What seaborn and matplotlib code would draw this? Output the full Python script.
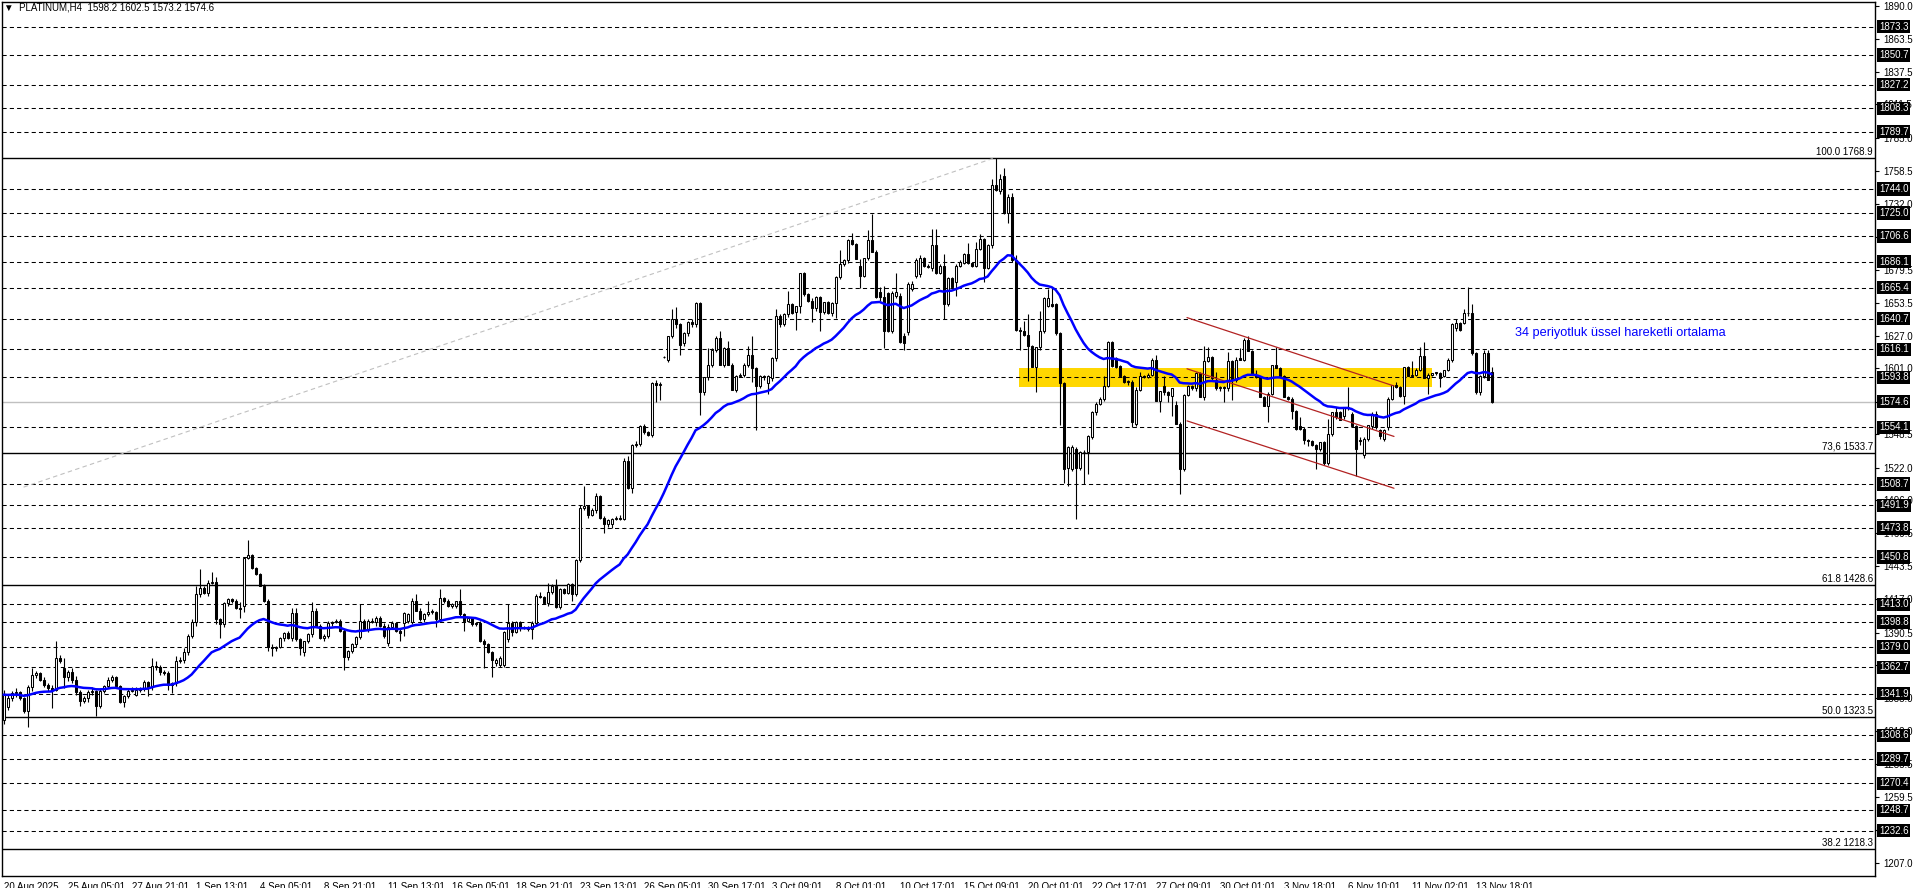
import numpy as np
import pandas as pd
import matplotlib
matplotlib.use("Agg")
import matplotlib.pyplot as plt
import matplotlib.transforms as mtrans
from matplotlib.patches import Rectangle
import seaborn as sns

sns.set_style("white")
plt.rcParams['font.family'] = ['Liberation Sans', 'DejaVu Sans']

# ---------------- data (PLATINUM, H4) ----------------
opens = [
1321,1331,1338,1342,1343,1338,1328,1347,1357,1358,
1353,1349,1346,1345,1370,1362,1355,1359,1353,1343,
1336,1338,1343,1344,1332,1344,1348,1353,1355,1348,
1335,1340,1344,1341,1345,1346,1351,1347,1364,1363,
1359,1358,1349,1350,1368,1369,1375,1388,1399,1421,
1426,1422,1430,1431,1401,1397,1414,1417,1416,1410,
1412,1450,1452,1442,1437,1428,1416,1379,1378,1379,
1386,1390,1386,1406,1385,1375,1384,1389,1408,1396,
1386,1388,1398,1399,1400,1392,1371,1376,1381,1387,
1400,1393,1400,1399,1402,1396,1382,1395,1398,1392,
1398,1400,1399,1416,1408,1401,1405,1407,1407,1401,
1418,1416,1412,1412,1416,1405,1400,1402,1397,1398,
1384,1381,1375,1366,1365,1365,1385,1398,1391,1399,
1394,1395,1393,1398,1420,1419,1414,1423,1428,1411,
1425,1422,1429,1421,1448,1490,1491,1484,1488,1499,
1482,1477,1477,1481,1482,1481,1527,1506,1540,1541,
1555,1550,1548,1589,1588,1610,1608,1627,1640,1636,
1621,1629,1638,1636,1653,1582,1594,1604,1616,1625,
1604,1617,1604,1584,1595,1596,1604,1612,1601,1587,
1595,1589,1593,1609,1643,1636,1644,1652,1646,1651,
1677,1660,1655,1649,1658,1646,1654,1645,1653,1674,
1684,1687,1703,1700,1683,1675,1689,1703,1694,1662,
1658,1661,1631,1659,1659,1627,1630,1664,1675,1676,
1689,1683,1681,1699,1677,1683,1652,1673,1670,1683,
1685,1692,1685,1683,1696,1704,1681,1699,1747,1742,
1754,1725,1738,1687,1632,1631,1628,1619,1602,1618,
1631,1651,1652,1652,1629,1589,1522,1521,1537,1522,
1534,1534,1546,1566,1573,1577,1587,1622,1609,1603,
1595,1590,1590,1557,1584,1595,1594,1596,1608,1575,
1587,1582,1579,1572,1557,1521,1580,1587,1585,1597,
1578,1607,1610,1592,1585,1586,1585,1607,1592,1609,
1608,1624,1615,1596,1594,1578,1571,1581,1604,1601,
1595,1578,1577,1567,1555,1553,1544,1543,1540,1537,
1542,1526,1549,1566,1566,1563,1570,1565,1555,1543,
1532,1545,1555,1565,1552,1545,1554,1577,1588,1586,
1579,1602,1595,1596,1600,1611,1593,1596,1597,1597,
1595,1600,1608,1633,1637,1637,1645,1645,1613,1582,
1595,1613,1598.2]

highs = [
1345,1341,1344,1346,1344,1339,1349,1362,1360,1359,
1355,1350,1349,1384,1373,1370,1361,1362,1356,1345,
1340,1345,1347,1345,1346,1349,1355,1357,1356,1349,
1341,1346,1347,1347,1347,1353,1352,1370,1368,1365,
1361,1360,1351,1372,1371,1378,1389,1401,1428,1441,
1428,1432,1439,1435,1402,1415,1418,1418,1417,1415,
1451,1464,1453,1443,1438,1429,1417,1381,1380,1387,
1391,1392,1410,1410,1386,1384,1390,1415,1410,1397,
1389,1400,1400,1401,1401,1393,1377,1382,1388,1413,
1401,1401,1402,1404,1404,1398,1397,1400,1399,1394,
1407,1406,1418,1421,1410,1406,1416,1409,1408,1425,
1419,1417,1414,1416,1425,1406,1403,1403,1399,1400,
1385,1382,1376,1370,1372,1392,1413,1400,1400,1400,
1396,1396,1400,1421,1423,1420,1430,1429,1433,1426,
1426,1430,1430,1449,1492,1507,1492,1490,1502,1500,
1483,1481,1482,1483,1484,1530,1531,1541,1543,1556,
1557,1551,1590,1592,1590,1611,1627,1648,1650,1637,
1630,1639,1640,1654,1654,1594,1617,1617,1627,1631,
1618,1623,1605,1596,1597,1605,1619,1627,1602,1596,
1596,1596,1610,1648,1644,1645,1663,1653,1651,1677,
1678,1661,1657,1659,1659,1654,1655,1654,1675,1695,
1688,1704,1709,1701,1688,1689,1711,1724,1695,1666,
1667,1662,1663,1677,1661,1629,1670,1671,1689,1691,
1690,1684,1712,1712,1684,1692,1674,1674,1684,1687,
1693,1701,1686,1702,1708,1705,1700,1752,1769,1756,
1761,1740,1741,1691,1634,1639,1644,1620,1618,1647,
1658,1664,1665,1653,1630,1590,1539,1540,1538,1535,
1536,1548,1567,1574,1578,1595,1623,1623,1610,1604,
1596,1592,1592,1586,1598,1596,1597,1609,1612,1583,
1595,1583,1585,1575,1558,1581,1588,1588,1598,1598,
1619,1618,1611,1598,1587,1587,1614,1608,1610,1617,
1625,1627,1616,1600,1595,1579,1582,1604,1618,1602,
1596,1579,1578,1568,1562,1554,1545,1544,1541,1542,
1543,1561,1566,1570,1567,1570,1586,1566,1556,1546,
1546,1556,1566,1567,1553,1553,1578,1588,1590,1587,
1602,1603,1607,1601,1618,1622,1597,1597,1598,1598,
1600,1609,1637,1640,1638,1648,1666,1652,1614,1596,
1616,1616,1602.5]

lows = [
1318,1329,1336,1339,1337,1326,1315,1344,1354,1352,
1347,1344,1330,1344,1366,1346,1352,1350,1341,1332,
1334,1335,1341,1324,1330,1342,1346,1351,1346,1334,
1331,1338,1343,1340,1343,1344,1340,1345,1361,1357,
1357,1345,1342,1348,1366,1366,1373,1386,1396,1419,
1421,1420,1429,1397,1386,1395,1412,1414,1409,1402,
1407,1449,1441,1436,1428,1415,1376,1372,1376,1378,
1384,1385,1384,1384,1373,1372,1382,1387,1395,1385,
1384,1386,1396,1398,1391,1361,1369,1374,1379,1385,
1393,1391,1398,1396,1395,1386,1380,1393,1391,1384,
1388,1398,1397,1408,1400,1399,1404,1405,1395,1399,
1414,1411,1410,1410,1404,1392,1399,1396,1396,1383,
1362,1374,1355,1364,1363,1363,1383,1388,1390,1392,
1393,1392,1385,1396,1418,1413,1412,1421,1410,1409,
1421,1421,1416,1420,1447,1488,1482,1483,1486,1481,
1470,1475,1474,1480,1480,1480,1505,1502,1538,1539,
1549,1547,1546,1574,1576,1609,1606,1625,1633,1612,
1619,1627,1634,1634,1564,1580,1592,1602,1614,1604,
1602,1604,1584,1582,1594,1594,1602,1590,1552,1585,
1592,1581,1591,1607,1634,1635,1642,1644,1632,1645,
1659,1654,1638,1647,1631,1644,1644,1643,1641,1672,
1683,1685,1699,1688,1665,1674,1687,1694,1657,1655,
1617,1630,1629,1657,1621,1616,1628,1663,1673,1674,
1682,1681,1679,1676,1676,1640,1651,1665,1659,1682,
1684,1684,1682,1682,1695,1670,1680,1697,1742,1740,
1724,1717,1686,1631,1616,1627,1591,1602,1582,1616,
1629,1650,1650,1628,1556,1510,1507,1519,1481,1520,
1509,1517,1545,1564,1572,1575,1586,1602,1601,1594,
1589,1588,1554,1555,1583,1593,1593,1595,1575,1566,
1580,1574,1563,1557,1501,1519,1579,1584,1583,1578,
1576,1606,1592,1584,1583,1574,1583,1576,1590,1608,
1607,1615,1596,1593,1578,1571,1558,1580,1601,1595,
1578,1576,1561,1552,1552,1541,1539,1539,1521,1535,
1524,1524,1547,1561,1560,1561,1568,1554,1515,1540,
1530,1543,1553,1553,1545,1543,1552,1576,1585,1578,
1573,1595,1594,1595,1599,1593,1581,1595,1596,1586,
1594,1599,1606,1631,1631,1636,1643,1612,1581,1580,
1593,1592,1573.2]

closes = [
1341,1338,1342,1343,1338,1328,1347,1357,1358,1353,
1349,1346,1345,1370,1368,1355,1359,1353,1343,1336,
1338,1343,1344,1332,1344,1348,1353,1355,1348,1335,
1340,1344,1345,1345,1346,1351,1347,1364,1363,1359,
1358,1349,1350,1368,1369,1375,1388,1399,1421,1426,
1422,1430,1431,1401,1397,1414,1417,1416,1410,1409,
1450,1452,1442,1437,1428,1416,1379,1378,1379,1386,
1390,1386,1406,1385,1378,1384,1389,1408,1396,1386,
1388,1398,1399,1400,1392,1371,1376,1381,1387,1400,
1393,1400,1399,1402,1396,1388,1395,1398,1392,1390,
1406,1405,1416,1408,1401,1405,1407,1407,1401,1418,
1416,1412,1413,1416,1405,1400,1402,1397,1398,1384,
1381,1375,1369,1369,1370,1391,1398,1391,1399,1394,
1395,1393,1398,1420,1419,1414,1423,1428,1411,1425,
1422,1429,1421,1448,1490,1491,1484,1488,1499,1482,
1477,1480,1481,1482,1481,1527,1506,1540,1541,1555,
1550,1548,1589,1588,1588,1610,1627,1640,1636,1620,
1629,1638,1636,1653,1582,1594,1604,1616,1625,1604,
1617,1604,1584,1595,1596,1604,1612,1601,1587,1595,
1594,1595,1609,1643,1636,1644,1652,1645,1651,1677,
1660,1655,1649,1658,1646,1654,1645,1653,1674,1684,
1687,1703,1700,1688,1675,1689,1703,1694,1658,1658,
1631,1631,1661,1662,1622,1621,1668,1668,1687,1689,
1683,1682,1699,1677,1683,1652,1673,1666,1683,1686,
1692,1685,1683,1696,1704,1681,1699,1747,1743,1752,
1725,1738,1687,1632,1631,1628,1619,1602,1618,1631,
1657,1657,1651,1629,1589,1521,1538,1538,1522,1534,
1534,1547,1566,1573,1577,1587,1622,1603,1602,1595,
1590,1591,1558,1584,1595,1594,1596,1608,1575,1583,
1582,1580,1585,1557,1521,1580,1587,1585,1597,1578,
1607,1610,1593,1585,1586,1585,1607,1592,1608,1608,
1624,1615,1596,1594,1578,1571,1581,1604,1601,1595,
1578,1577,1567,1553,1553,1544,1543,1540,1537,1542,
1526,1549,1566,1562,1560,1570,1570,1555,1537,1544,
1545,1556,1565,1554,1547,1552,1577,1588,1586,1579,
1602,1595,1596,1600,1611,1593,1596,1597,1598,1593,
1600,1608,1636,1637,1632,1645,1645,1613,1582,1595,
1613,1592,1574.6]

time_labels = ["20 Aug 2025", "25 Aug 05:01", "27 Aug 21:01", "1 Sep 13:01", "4 Sep 05:01",
               "8 Sep 21:01", "11 Sep 13:01", "16 Sep 05:01", "18 Sep 21:01", "23 Sep 13:01",
               "26 Sep 05:01", "30 Sep 17:01", "3 Oct 09:01", "8 Oct 01:01", "10 Oct 17:01",
               "15 Oct 09:01", "20 Oct 01:01", "22 Oct 17:01", "27 Oct 09:01", "30 Oct 01:01",
               "3 Nov 18:01", "6 Nov 10:01", "11 Nov 02:01", "13 Nov 18:01"]
label_step = 16

axis_ticks = [1890.0, 1863.5, 1837.5, 1811.5, 1785.0, 1758.5, 1732.0, 1706.0, 1679.5, 1653.5,
              1627.0, 1601.0, 1574.5, 1548.5, 1522.0, 1496.0, 1469.5, 1443.5, 1417.0, 1390.5,
              1364.5, 1338.0, 1312.0, 1285.5, 1259.5, 1233.0, 1207.0]
hidden_ticks = [1706.0, 1574.5, 1364.5, 1233.0]
levels = [1873.3, 1850.7, 1827.2, 1808.3, 1789.7, 1744.0, 1725.0, 1706.6, 1686.1, 1665.4,
          1640.7, 1616.1, 1593.8, 1554.1, 1508.7, 1491.9, 1473.8, 1450.8, 1413.0, 1398.8,
          1379.0, 1362.7, 1341.9, 1308.6, 1289.7, 1270.4, 1248.7, 1232.6]
current_price = 1574.6
fib_values = [1768.9, 1533.7, 1428.6, 1323.5, 1218.3]
fib_names = ["100.0", "73,6", "61.8", "50.0", "38.2"]

zone_bars = [253.85, 357.0]
zone_prices = [1586.4, 1601.3]
channel_bars = [295.85, 347.6]
channel_upper = [1641.5, 1587.0]
channel_middle = [1600.7, 1546.8]
channel_lower = [1559.2, 1505.5]
fib_line_bars = [5.0, 247.85]
fib_line_prices = [1506.4, 1768.9]

ema_period = 34
note_text = "34 periyotluk üssel hareketli ortalama"
header = "\u25BC  PLATINUM,H4  1598.2 1602.5 1573.2 1574.6"

# ---------------- figure ----------------
W, H = 1916, 888
fig = plt.figure(figsize=(W / 100, H / 100), dpi=100)
fig.patch.set_facecolor("white")
ax = fig.add_axes([2 / W, 12 / H, (1875 - 2) / W, (876 - 2) / H])
ax.set_facecolor("white")

n = len(closes)
df = pd.DataFrame({"bar": np.arange(n), "open": opens, "high": highs,
                   "low": lows, "close": closes})
df["high"] = df[["high", "open", "close"]].max(axis=1)
df["low"] = df[["low", "open", "close"]].min(axis=1)
df["ema"] = df["close"].ewm(span=ema_period, adjust=False).mean()

ax.set_xlim(-0.4, 467.85)
ax.set_ylim(1196.5, 1893.0)

# zone
ax.add_patch(Rectangle((zone_bars[0], zone_prices[0]), zone_bars[1] - zone_bars[0],
                       zone_prices[1] - zone_prices[0], facecolor="#FFD700",
                       edgecolor="none", zorder=1))

# horizontal levels
for lv in levels:
    ax.axhline(lv, color="black", lw=0.75, ls=(0, (4, 3)), zorder=2)
for fv in fib_values:
    ax.axhline(fv, color="black", lw=1.0, zorder=2)
ax.axhline(current_price, color="#C0C0C0", lw=1.0, zorder=2)

# fib trend line
ax.plot(fib_line_bars, fib_line_prices, color="#C0C0C0", lw=0.8, ls=(0, (4, 3)), zorder=2)

# candles
bull = df["close"] >= df["open"]
body_lo = df[["open", "close"]].min(axis=1)
body_h = (df["close"] - df["open"]).abs().clip(lower=0.35)
ax.vlines(df["bar"], df["low"], df["high"], color="black", lw=0.8, zorder=4)
ax.bar(df["bar"][bull], body_h[bull], bottom=body_lo[bull], width=0.5,
       color="white", edgecolor="black", linewidth=0.75, zorder=5)
ax.bar(df["bar"][~bull], body_h[~bull], bottom=body_lo[~bull], width=0.5,
       color="black", edgecolor="black", linewidth=0.75, zorder=5)

# EMA
sns.lineplot(data=df, x="bar", y="ema", ax=ax, color="#0000FF", lw=1.8,
             zorder=7, legend=False)

# channel
for ch in (channel_upper, channel_middle, channel_lower):
    ax.plot(channel_bars, ch, color="#B22222", lw=0.9, zorder=6)

ax.text(377.85, 1629.2, note_text, color="#0000FF", fontsize=9.2,
        ha="left", va="center", zorder=8)

# axes styling
ax.set_xlabel("")
ax.set_ylabel("")
for s in ax.spines.values():
    s.set_color("black")
    s.set_linewidth(1.0)

ax.set_xticks([i * label_step for i in range(len(time_labels))])
ax.set_xticklabels(time_labels, ha="left", fontsize=7)
ax.tick_params(axis="x", direction="out", length=3, width=0.8, pad=1, colors="black")

ax.yaxis.tick_right()
ax.set_yticks(axis_ticks)
ax.set_yticklabels(["" if t in hidden_ticks else f"{t:.1f}" for t in axis_ticks], fontsize=7)
ax.tick_params(axis="y", direction="out", length=3, width=0.8, pad=3, colors="black")
ax.grid(False)

blend = mtrans.blended_transform_factory(ax.transAxes, ax.transData)
for lv in levels + [current_price]:
    ax.annotate(f"{lv:.1f}", xy=(1.0, lv), xycoords=blend, xytext=(4, 0),
                textcoords="offset pixels", ha="left", va="center", fontsize=7,
                color="white", annotation_clip=False, zorder=10,
                bbox=dict(boxstyle="square,pad=0.18", fc="black", ec="none"))
for name, fv in zip(fib_names, fib_values):
    ax.annotate(f"{name} {fv:.1f}", xy=(1.0, fv), xycoords=blend, xytext=(-2, 1),
                textcoords="offset pixels", ha="right", va="bottom", fontsize=7,
                color="black", annotation_clip=False, zorder=10)

fig.text(4 / W, 1 - 7 / H, header, fontsize=7, ha="left", va="center", color="black")

fig.savefig("out.png", dpi=100)
